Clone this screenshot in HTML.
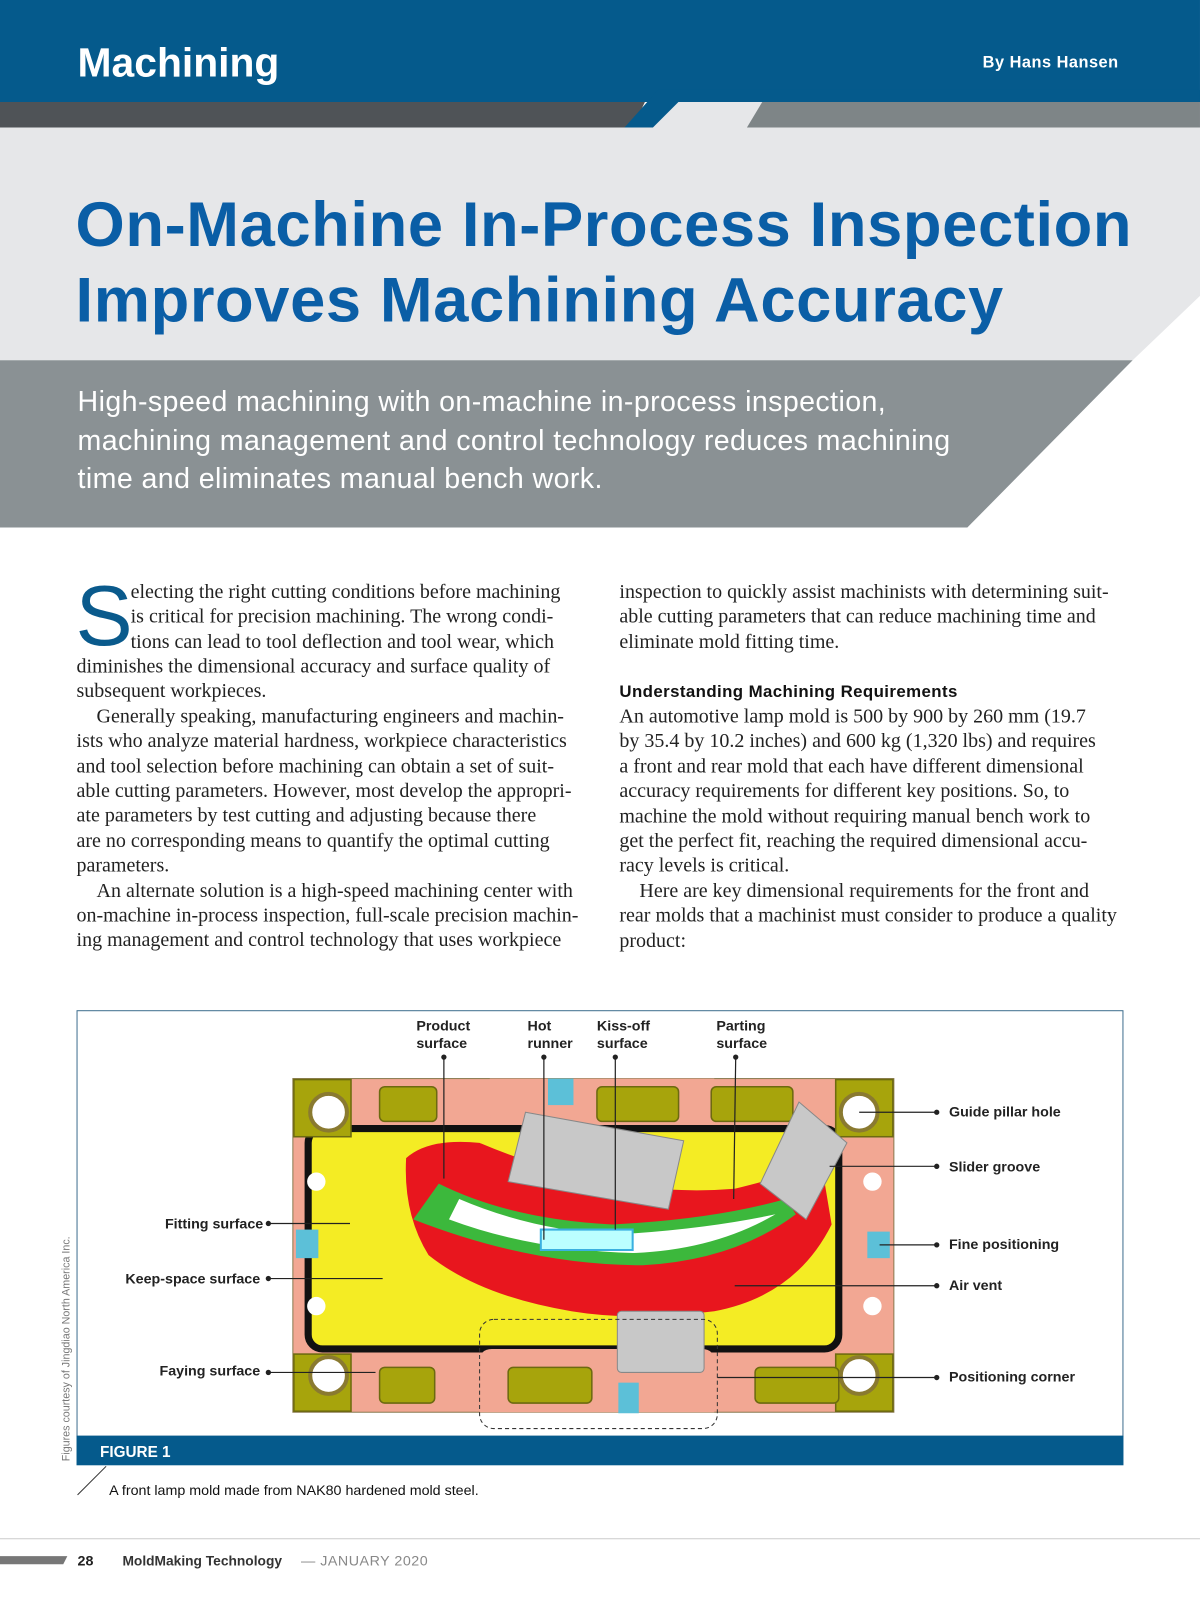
<!DOCTYPE html>
<html><head><meta charset="utf-8">
<style>
*{margin:0;padding:0;box-sizing:border-box}
html,body{width:1200px;height:1600px;overflow:hidden;background:#fff}
#w{position:absolute;left:0;top:0;width:1176px;height:1568px;transform:scale(1.0204);transform-origin:0 0;font-family:"Liberation Sans",sans-serif}
.a{position:absolute;white-space:nowrap}
.body{font-family:"Liberation Serif",serif;font-size:19.6px;color:#222;line-height:24.4px}
.lbl{font-family:"Liberation Sans",sans-serif;font-weight:bold;font-size:14px;fill:#222}
</style></head><body><div id="w">
<svg class="a" style="left:0;top:0" width="1176" height="530">
<rect x="0" y="0" width="1176" height="100" fill="#055a8c"/>
<rect x="0" y="100" width="1176" height="430" fill="#fff"/>
<polygon points="0,125 1176,125 1176,290 1110,353 0,353" fill="#e6e7e9"/>
<polygon points="0,100 632,100 620,125 0,125" fill="#4f5357"/>
<polygon points="612,125 645,88 1176,88 1176,100 665,100 640,125" fill="#055a8c"/>
<polygon points="640,125 665,100 1176,100 1176,125" fill="#e6e7e9"/>
<polygon points="747,100 1176,100 1176,125 732,125" fill="#7e8587"/>
<polygon points="0,353 1110,353 948,517 0,517" fill="#8a9194"/>
</svg>
<div class="a" style="left:76px;top:40px;font-size:40px;font-weight:bold;color:#fff">Machining</div>
<div class="a" style="left:963px;top:53px;font-size:16px;font-weight:bold;color:#fff;letter-spacing:0.5px">By Hans Hansen</div>
<div class="a" style="left:74px;top:184px;font-size:62px;font-weight:bold;color:#0a5ea6;line-height:74px;letter-spacing:0.6px">On-Machine In-Process Inspection<br>Improves Machining Accuracy</div>
<div class="a" style="left:76px;top:375px;font-size:28px;color:#fff;line-height:37.5px;letter-spacing:0.4px">High-speed machining with on-machine in-process inspection,<br>machining management and control technology reduces machining<br>time and eliminates manual bench work.</div>

<div class="a" style="left:74px;top:558px;font-family:'Liberation Sans',sans-serif;font-size:84px;color:#0a5a8c;line-height:90px">S</div>
<div class="a body" style="left:128px;top:569px">electing the right cutting conditions before machining<br>is critical for precision machining. The wrong condi-<br>tions can lead to tool deflection and tool wear, which</div>
<div class="a body" style="left:75px;top:642px">diminishes the dimensional accuracy and surface quality of<br>subsequent workpieces.<br>&nbsp;&nbsp;&nbsp;&nbsp;Generally speaking, manufacturing engineers and machin-<br>ists who analyze material hardness, workpiece characteristics<br>and tool selection before machining can obtain a set of suit-<br>able cutting parameters. However, most develop the appropri-<br>ate parameters by test cutting and adjusting because there<br>are no corresponding means to quantify the optimal cutting<br>parameters.<br>&nbsp;&nbsp;&nbsp;&nbsp;An alternate solution is a high-speed machining center with<br>on-machine in-process inspection, full-scale precision machin-<br>ing management and control technology that uses workpiece</div>
<div class="a body" style="left:607px;top:569px">inspection to quickly assist machinists with determining suit-<br>able cutting parameters that can reduce machining time and<br>eliminate mold fitting time.</div>
<div class="a" style="left:607px;top:669px;font-size:16.5px;font-weight:bold;color:#111;letter-spacing:0.4px">Understanding Machining Requirements</div>
<div class="a body" style="left:607px;top:691px">An automotive lamp mold is 500 by 900 by 260 mm (19.7<br>by 35.4 by 10.2 inches) and 600 kg (1,320 lbs) and requires<br>a front and rear mold that each have different dimensional<br>accuracy requirements for different key positions. So, to<br>machine the mold without requiring manual bench work to<br>get the perfect fit, reaching the required dimensional accu-<br>racy levels is critical.<br>&nbsp;&nbsp;&nbsp;&nbsp;Here are key dimensional requirements for the front and<br>rear molds that a machinist must consider to produce a quality<br>product:</div>

<svg class="a" style="left:0;top:980px" width="1176" height="588" viewBox="0 980 1176 588">
<rect x="75.5" y="990.5" width="1025" height="417" fill="#fff" stroke="#3f6f8f"/>
<rect x="75" y="1407" width="1026" height="29" fill="#055a8c"/>
<text x="98" y="1428" fill="#fff" font-weight="bold" font-size="15" font-family="Liberation Sans">FIGURE 1</text>
<line x1="76" y1="1465" x2="104" y2="1437" stroke="#333"/>
<text x="107" y="1465" font-size="14" font-family="Liberation Sans" fill="#111">A front lamp mold made from NAK80 hardened mold steel.</text>
<text transform="translate(68,1432) rotate(-90)" font-size="10.5" fill="#777" font-family="Liberation Sans">Figures courtesy of Jingdiao North America Inc.</text>
<rect x="287" y="1057" width="589" height="327" fill="#f2a793" stroke="#8a7a50"/>
<rect x="302" y="1106" width="520" height="216" rx="14" fill="#f4ec24" stroke="#111" stroke-width="7"/>
<path d="M480,1057 L700,1057 L700,1090 Q700,1102 688,1102 L492,1102 Q480,1102 480,1090Z" fill="#f2a793"/>
<path d="M470,1384 L700,1384 L700,1335 Q700,1322 688,1322 L482,1322 Q470,1322 470,1335Z" fill="#f2a793"/>
<path d="M398,1135 Q420,1115 470,1120 Q600,1175 720,1165 Q780,1150 805,1140 L815,1200 Q780,1270 700,1285 Q620,1295 560,1285 Q470,1270 420,1230 Q395,1190 398,1135Z" fill="#e8161e"/>
<path d="M430,1160 Q500,1195 600,1200 Q700,1195 770,1175 L780,1190 Q720,1235 630,1240 Q520,1240 405,1195 Z" fill="#3cb83c"/>
<path d="M450,1175 Q520,1205 600,1210 Q690,1205 760,1190 Q700,1225 620,1228 Q520,1225 440,1195Z" fill="#fff"/>
<path d="M530,1205 L620,1205 L620,1225 L530,1225Z" fill="#bff" stroke="#3ab0e0" stroke-width="2"/>
<g fill="#a7a40c" stroke="#6d6a10" stroke-width="1.5">
<rect x="288" y="1058" width="56" height="56"/><rect x="819" y="1058" width="56" height="56"/>
<rect x="288" y="1327" width="56" height="56"/><rect x="819" y="1327" width="56" height="56"/>
<rect x="372" y="1065" width="56" height="34" rx="5"/><rect x="585" y="1065" width="80" height="34" rx="5"/><rect x="697" y="1065" width="80" height="34" rx="5"/>
<rect x="372" y="1340" width="54" height="35" rx="5"/><rect x="498" y="1340" width="82" height="35" rx="5"/><rect x="740" y="1340" width="82" height="35" rx="5"/>
</g>
<g fill="#fff" stroke="#8a7a30" stroke-width="4">
<circle cx="322" cy="1090" r="18"/><circle cx="842" cy="1090" r="18"/><circle cx="322" cy="1348" r="18"/><circle cx="842" cy="1348" r="18"/>
</g>
<g fill="#fff"><circle cx="310" cy="1158" r="9"/><circle cx="310" cy="1280" r="9"/><circle cx="855" cy="1158" r="9"/><circle cx="855" cy="1280" r="9"/></g>
<g fill="#5cc0d8"><rect x="537" y="1057" width="25" height="26"/><rect x="290" y="1205" width="22" height="28"/><rect x="850" y="1207" width="22" height="26"/><rect x="606" y="1355" width="20" height="30"/></g>
<g fill="#c8c8c8" stroke="#888">
<polygon points="515,1090 670,1118 655,1185 498,1158"/>
<polygon points="783,1080 830,1120 790,1195 745,1160"/>
<rect x="605" y="1285" width="85" height="60" rx="4"/>
</g>
<rect x="470" y="1293" width="233" height="107" rx="14" fill="none" stroke="#333" stroke-dasharray="4,3"/>
<g stroke="#222" stroke-width="1.2" fill="#222">
<line x1="435" y1="1036" x2="435" y2="1155"/><circle cx="435" cy="1036" r="2"/>
<line x1="533" y1="1036" x2="533" y2="1215"/><circle cx="533" cy="1036" r="2"/>
<line x1="603" y1="1036" x2="603" y2="1205"/><circle cx="603" cy="1036" r="2"/>
<line x1="721" y1="1036" x2="719" y2="1175"/><circle cx="721" cy="1036" r="2"/>
<line x1="842" y1="1090" x2="918" y2="1090"/><circle cx="918" cy="1090" r="2"/>
<line x1="813" y1="1143" x2="918" y2="1143"/><circle cx="918" cy="1143" r="2"/>
<line x1="862" y1="1220" x2="918" y2="1220"/><circle cx="918" cy="1220" r="2"/>
<line x1="720" y1="1260" x2="918" y2="1260"/><circle cx="918" cy="1260" r="2"/>
<line x1="703" y1="1350" x2="918" y2="1350"/><circle cx="918" cy="1350" r="2"/>
<line x1="263" y1="1199" x2="343" y2="1199"/><circle cx="263" cy="1199" r="2"/>
<line x1="263" y1="1253" x2="375" y2="1253"/><circle cx="263" cy="1253" r="2"/>
<line x1="263" y1="1345" x2="368" y2="1345"/><circle cx="263" cy="1345" r="2"/>
</g>
<g class="lbl">
<text x="408" y="1010">Product</text><text x="408" y="1027">surface</text>
<text x="517" y="1010">Hot</text><text x="517" y="1027">runner</text>
<text x="585" y="1010">Kiss-off</text><text x="585" y="1027">surface</text>
<text x="702" y="1010">Parting</text><text x="702" y="1027">surface</text>
<text x="930" y="1094">Guide pillar hole</text>
<text x="930" y="1148">Slider groove</text>
<text x="930" y="1224">Fine positioning</text>
<text x="930" y="1264">Air vent</text>
<text x="930" y="1354">Positioning corner</text>
<text x="258" y="1204" text-anchor="end">Fitting surface</text>
<text x="255" y="1258" text-anchor="end">Keep-space surface</text>
<text x="255" y="1348" text-anchor="end">Faying surface</text>
</g>
<line x1="0" y1="1508" x2="1176" y2="1508" stroke="#ccc"/>
<polygon points="0,1525 66,1525 62,1533 0,1533" fill="#777"/>
<text x="76" y="1534" font-size="14" font-weight="bold" fill="#222" font-family="Liberation Sans">28</text>
<text x="120" y="1534" font-size="13.5" font-weight="bold" fill="#333" font-family="Liberation Sans">MoldMaking Technology</text>
<text x="295" y="1534" font-size="14" fill="#888" font-family="Liberation Sans" letter-spacing="0.5">— JANUARY 2020</text>
</svg>
</div></body></html>
